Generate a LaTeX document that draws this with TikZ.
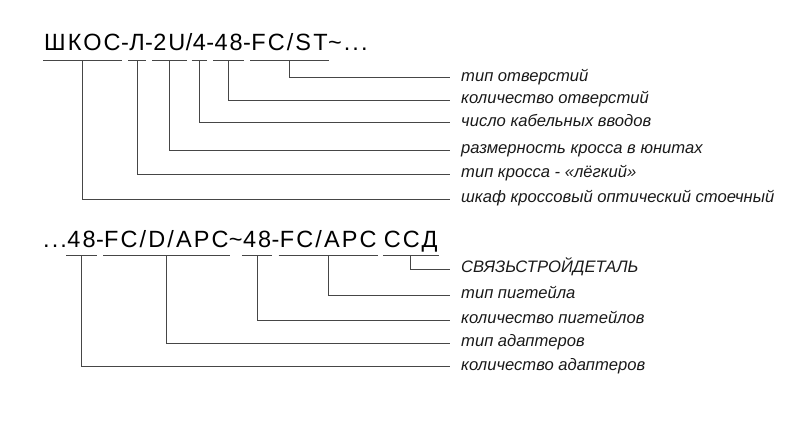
\documentclass[tikz,border=0pt]{standalone}
\usepackage{fontspec}
\usepackage{tikz}
\usetikzlibrary{positioning,calc}
\newfontfamily\codefont[LetterSpace=8.9]{Liberation Sans}
\newfontfamily\glossfont[ItalicFont={Liberation Sans Italic}]{Liberation Sans}
\definecolor{leadgray}{RGB}{70,70,70}
\definecolor{glossink}{RGB}{25,25,25}
\tikzset{
  code/.style={font=\codefont\fontsize{23.5}{28}\selectfont,inner sep=0pt,anchor=base west,text=black},
  gloss/.style={font=\glossfont\itshape\fontsize{16.6}{20}\selectfont,inner sep=0pt,anchor=west,text height=11pt,text depth=4pt,text=glossink},
  lead/.style={draw=leadgray,line width=1pt},
}

\begin{document}
\begin{tikzpicture}[x=1pt,y=-1pt]
  \useasboundingbox (0,0) rectangle (800,421);
  % marking, first line
  \node[code] (k1) at (44,50) {ШКОС};
  \node[code] (s1) at (k1.base east) {-};
  \node[code] (k2) at (s1.base east) {Л};
  \node[code] (s2) at (k2.base east) {-};
  \node[code] (k3) at (s2.base east) {2U};
  \node[code] (s3) at (k3.base east) {/};
  \node[code] (k4) at (s3.base east) {4};
  \node[code] (s4) at (k4.base east) {-};
  \node[code] (k5) at (s4.base east) {48};
  \node[code] (s5) at (k5.base east) {-};
  \node[code] (k6) at (s5.base east) {FC/ST};
  \node[code] (s6) at (k6.base east) {\char`~...};
  % glosses, first line
  \node[gloss] (g6) at (461,77.7) {тип отверстий};
  \node[gloss] (g5) at (461,100) {количество отверстий};
  \node[gloss] (g4) at (461,122.7) {число кабельных вводов};
  \node[gloss] (g3) at (461,150) {размерность кросса в юнитах};
  \node[gloss] (g2) at (461,174.3) {тип кросса - «лёгкий»};
  \node[gloss] (g1) at (461,199) {шкаф кроссовый оптический стоечный};
  \draw[lead] ($(k1.base west)+(-1,10)$) -- ($(k1.base east)+(1,10)$) ($(k1.base)+(0,10)$) |- ([xshift=-11pt]g1.west);
  \draw[lead] ($(k2.base west)+(-1,10)$) -- ($(k2.base east)+(1,10)$) ($(k2.base)+(0,10)$) |- ([xshift=-11pt]g2.west);
  \draw[lead] ($(k3.base west)+(-1,10)$) -- ($(k3.base east)+(1,10)$) ($(k3.base)+(0,10)$) |- ([xshift=-11pt]g3.west);
  \draw[lead] ($(k4.base west)+(-1,10)$) -- ($(k4.base east)+(1,10)$) ($(k4.base)+(0,10)$) |- ([xshift=-11pt]g4.west);
  \draw[lead] ($(k5.base west)+(-1,10)$) -- ($(k5.base east)+(1,10)$) ($(k5.base)+(0,10)$) |- ([xshift=-11pt]g5.west);
  \draw[lead] ($(k6.base west)+(-1,10)$) -- ($(k6.base east)+(1,10)$) ($(k6.base)+(0,10)$) |- ([xshift=-11pt]g6.west);
  % marking, second line
  \node[code] (m0) at (43,247.5) {...};
  \node[code] (m1) at (m0.base east) {48};
  \node[code] (t1) at (m1.base east) {-};
  \node[code] (m2) at (t1.base east) {FC/D/APC};
  \node[code] (t2) at (m2.base east) {\char`~};
  \node[code] (m3) at (t2.base east) {48};
  \node[code] (t3) at (m3.base east) {-};
  \node[code] (m4) at (t3.base east) {FC/APC};
  \node[code,xshift=7pt] (m5) at (m4.base east) {ССД};
  % glosses, second line
  \node[gloss] (h5) at (461,269.3) {СВЯЗЬСТРОЙДЕТАЛЬ};
  \node[gloss] (h4) at (461,295) {тип пигтейла};
  \node[gloss] (h3) at (461,320) {количество пигтейлов};
  \node[gloss] (h2) at (461,343.3) {тип адаптеров};
  \node[gloss] (h1) at (461,366.7) {количество адаптеров};
  \draw[lead] ($(m1.base west)+(-1,8)$) -- ($(m1.base east)+(1,8)$) ($(m1.base)+(0,8)$) |- ([xshift=-11pt]h1.west);
  \draw[lead] ($(m2.base west)+(-1,8)$) -- ($(m2.base east)+(1,8)$) ($(m2.base)+(0,8)$) |- ([xshift=-11pt]h2.west);
  \draw[lead] ($(m3.base west)+(-1,8)$) -- ($(m3.base east)+(1,8)$) ($(m3.base)+(0,8)$) |- ([xshift=-11pt]h3.west);
  \draw[lead] ($(m4.base west)+(-1,8)$) -- ($(m4.base east)+(1,8)$) ($(m4.base)+(0,8)$) |- ([xshift=-11pt]h4.west);
  \draw[lead] ($(m5.base west)+(-1,8)$) -- ($(m5.base east)+(1,8)$) ($(m5.base)+(0,8)$) |- ([xshift=-11pt]h5.west);
\end{tikzpicture}
\end{document}
